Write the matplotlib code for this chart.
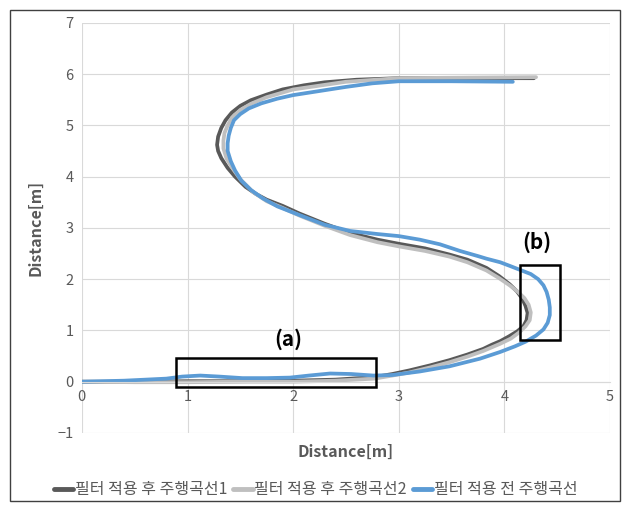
import matplotlib
matplotlib.use("Agg")
import matplotlib.pyplot as plt
from matplotlib.patches import Rectangle

plt.rcParams['font.family'] = ['Noto Sans CJK KR', 'DejaVu Sans']

# series labels
labels = ['필터 적용 후 주행곡선1', '필터 적용 후 주행곡선2', '필터 적용 전 주행곡선']
colors = ['#595959', '#bfbfbf', '#5b9bd5']

# filtered path 1 (dark grey)
x1 = [0, 0.5, 1.0, 1.5, 2.0, 2.4, 2.77, 2.94, 3.1, 3.3, 3.48, 3.65, 3.8, 3.88, 3.96, 4.04,
      4.12, 4.18, 4.21, 4.22, 4.20, 4.17, 4.12, 4.05, 3.95, 3.83, 3.65, 3.48, 3.25, 3.0,
      2.8, 2.54, 2.3, 2.06, 1.9, 1.75, 1.65, 1.55, 1.45, 1.38, 1.32, 1.29, 1.28, 1.29,
      1.32, 1.36, 1.42, 1.50, 1.60, 1.75, 1.9, 2.1, 2.3, 2.6, 3.0, 3.6, 4.28]
y1 = [0, 0.0, 0.01, 0.01, 0.02, 0.04, 0.09, 0.15, 0.22, 0.32, 0.42, 0.53, 0.64, 0.72, 0.79, 0.88,
      0.98, 1.08, 1.20, 1.34, 1.48, 1.62, 1.76, 1.90, 2.06, 2.22, 2.38, 2.48, 2.60, 2.69,
      2.77, 2.90, 3.08, 3.28, 3.43, 3.55, 3.66, 3.80, 4.0, 4.17, 4.36, 4.50, 4.62, 4.78,
      4.95, 5.10, 5.25, 5.38, 5.49, 5.60, 5.70, 5.78, 5.84, 5.89, 5.92, 5.92, 5.92]

# filtered path 2 (light grey)
x2 = [0, 0.5, 1.0, 1.5, 2.0, 2.4, 2.77, 2.94, 3.1, 3.3, 3.48, 3.65, 3.8, 3.96, 4.06,
      4.14, 4.20, 4.24, 4.25, 4.23, 4.19, 4.13, 4.05, 3.95, 3.83, 3.65, 3.48, 3.25, 3.0,
      2.8, 2.54, 2.3, 2.06, 1.9, 1.75, 1.62, 1.50, 1.43, 1.37, 1.34, 1.34, 1.35, 1.38,
      1.42, 1.50, 1.60, 1.75, 2.0, 2.5, 3.0, 3.6, 4.30]
y2 = [0, -0.01, -0.01, 0.0, 0.0, 0.02, 0.06, 0.12, 0.18, 0.28, 0.38, 0.49, 0.60, 0.74, 0.84,
      0.96, 1.08, 1.20, 1.35, 1.50, 1.63, 1.75, 1.88, 2.02, 2.17, 2.33, 2.44, 2.55, 2.64,
      2.72, 2.86, 3.04, 3.24, 3.39, 3.52, 3.70, 3.95, 4.15, 4.35, 4.55, 4.70, 4.85, 5.00,
      5.15, 5.30, 5.42, 5.55, 5.70, 5.85, 5.92, 5.93, 5.94]

# raw path (blue)
x3 = [0, 0.4, 0.8, 0.95, 1.12, 1.3, 1.52, 1.75, 1.97, 2.15, 2.35, 2.55, 2.76, 2.94, 3.2,
      3.48, 3.77, 3.96, 4.10, 4.20, 4.30, 4.37, 4.41, 4.43, 4.43, 4.42, 4.40, 4.37, 4.32,
      4.25, 4.15, 4.05, 3.96, 3.83, 3.75, 3.58, 3.39, 3.2, 3.0, 2.8, 2.54, 2.3, 2.06, 1.85,
      1.71, 1.60, 1.51, 1.45, 1.41, 1.38, 1.38, 1.39, 1.41, 1.44, 1.50, 1.58, 1.70, 1.85,
      2.0, 2.25, 2.5, 2.75, 3.0, 3.5, 4.08]
y3 = [0, 0.02, 0.06, 0.10, 0.12, 0.10, 0.07, 0.07, 0.08, 0.12, 0.16, 0.15, 0.12, 0.13, 0.20,
      0.30, 0.45, 0.58, 0.69, 0.78, 0.90, 1.02, 1.15, 1.30, 1.45, 1.60, 1.75, 1.88, 2.0,
      2.10, 2.18, 2.26, 2.33, 2.40, 2.45, 2.55, 2.68, 2.77, 2.84, 2.88, 2.94, 3.06, 3.25, 3.42,
      3.58, 3.74, 3.92, 4.12, 4.30, 4.50, 4.65, 4.80, 4.95, 5.10, 5.22, 5.33, 5.43, 5.52,
      5.59, 5.67, 5.75, 5.82, 5.86, 5.86, 5.85]

xs = [x1, x2, x3]
ys = [y1, y2, y3]

fig = plt.figure(figsize=(6.25, 5.07), dpi=100)
ax = fig.add_axes([0.131, 0.146, 0.845, 0.809])

for x, y, c, lab in zip(xs, ys, colors, labels):
    ax.plot(x, y, color=c, lw=2.7, label=lab, solid_joinstyle='round', solid_capstyle='round')

ax.set_xlim(0, 5)
ax.set_ylim(-1, 7)
ax.set_xticks(range(0, 6))
ax.set_yticks(range(-1, 8))
ax.grid(True, color='#d9d9d9', lw=0.8)
ax.set_axisbelow(True)
for s in ['top', 'right', 'left']:
    ax.spines[s].set_visible(False)
ax.spines['bottom'].set_position(('data', 0))
ax.spines['bottom'].set_color('#d9d9d9')
ax.tick_params(length=0, labelsize=10.5, labelcolor='#595959', pad=6)

ax.text(2.5, -1.37, 'Distance[m]', ha='center', va='center', fontsize=11.5,
        fontweight='bold', color='#595959')
ax.set_ylabel('Distance[m]', fontsize=11.5, fontweight='bold', color='#595959', labelpad=10)

# highlight boxes
ax.add_patch(Rectangle((0.89, -0.10), 1.89, 0.57, fill=False, ec='black', lw=1.8, zorder=5))
ax.add_patch(Rectangle((4.15, 0.82), 0.38, 1.46, fill=False, ec='black', lw=1.8, zorder=5))
ax.text(1.95, 0.82, '(a)', ha='center', va='center', fontsize=15, fontweight='bold')
ax.text(4.31, 2.73, '(b)', ha='center', va='center', fontsize=15, fontweight='bold')

leg = fig.legend(loc='center', bbox_to_anchor=(0.505, 0.034), ncol=3, frameon=False,
                 fontsize=11.5, handlelength=1.2, handletextpad=0.1, columnspacing=0.4,
                 labelcolor='#595959')
for h in leg.legend_handles:
    h.set_linewidth(3.5)

# chart border
fig.add_artist(Rectangle((10 / 625, 6 / 507), 610 / 625, 491 / 507, transform=fig.transFigure,
                         fill=False, ec='#404040', lw=1.0))

fig.savefig('out.png', dpi=100)
